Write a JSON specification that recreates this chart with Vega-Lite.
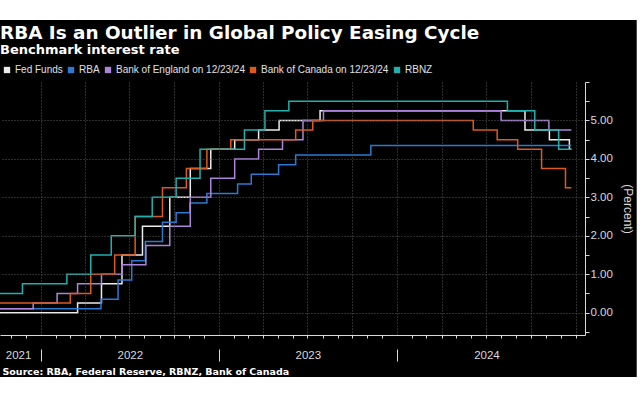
{
  "$schema": "https://vega.github.io/schema/vega-lite/v6.json",
  "width": 585,
  "height": 253,
  "autosize": {"type": "none"},
  "padding": {"left": 0, "top": 82, "right": 55, "bottom": 65},
  "background": "white",
  "config": {
    "view": {"stroke": null},
    "axis": {
      "tickColor": "#d9d9d9",
      "domainColor": "#d9d9d9",
      "gridColor": "#5a5a5a",
      "gridDash": [1, 2],
      "labelColor": "#d9d9d9",
      "labelFont": "Liberation Sans",
      "labelFontSize": 11.5,
      "labelFlush": false,
      "labelOverlap": false,
      "labelBound": false
    }
  },
  "title": {
    "text": "RBA Is an Outlier in Global Policy Easing Cycle",
    "subtitle": "Benchmark interest rate",
    "anchor": "start",
    "frame": "group",
    "orient": "top",
    "offset": -37,
    "font": "DejaVu Sans",
    "fontSize": 18.4,
    "fontWeight": "bold",
    "color": "white",
    "subtitleFont": "DejaVu Sans",
    "subtitleFontSize": 13,
    "subtitleFontWeight": "bold",
    "subtitleColor": "white",
    "subtitlePadding": 2,
    "zindex": 1
  },
  "layer": [
    {
      "data": {"values": [{}]},
      "mark": {"type": "rect", "fill": "black"},
      "encoding": {
        "x": {
          "datum": {"year": 2021, "month": 7, "date": 1},
          "type": "temporal",
          "scale": {"domain": [{"year": 2021, "month": 10, "date": 9}, {"year": 2025, "month": 1, "date": 20}]},
          "axis": {
            "orient": "bottom",
            "zindex": 1,
            "values": [
              {"year": 2021, "month": 11, "date": 1},
              {"year": 2021, "month": 11, "date": 15},
              {"year": 2021, "month": 12, "date": 1},
              {"year": 2022, "month": 1, "date": 1},
              {"year": 2022, "month": 2, "date": 1},
              {"year": 2022, "month": 3, "date": 1},
              {"year": 2022, "month": 4, "date": 1},
              {"year": 2022, "month": 5, "date": 1},
              {"year": 2022, "month": 6, "date": 1},
              {"year": 2022, "month": 7, "date": 1},
              {"year": 2022, "month": 7, "date": 2},
              {"year": 2022, "month": 8, "date": 1},
              {"year": 2022, "month": 9, "date": 1},
              {"year": 2022, "month": 10, "date": 1},
              {"year": 2022, "month": 11, "date": 1},
              {"year": 2022, "month": 12, "date": 1},
              {"year": 2023, "month": 1, "date": 1},
              {"year": 2023, "month": 2, "date": 1},
              {"year": 2023, "month": 3, "date": 1},
              {"year": 2023, "month": 4, "date": 1},
              {"year": 2023, "month": 5, "date": 1},
              {"year": 2023, "month": 6, "date": 1},
              {"year": 2023, "month": 7, "date": 1},
              {"year": 2023, "month": 7, "date": 2},
              {"year": 2023, "month": 8, "date": 1},
              {"year": 2023, "month": 9, "date": 1},
              {"year": 2023, "month": 10, "date": 1},
              {"year": 2023, "month": 11, "date": 1},
              {"year": 2023, "month": 12, "date": 1},
              {"year": 2024, "month": 1, "date": 1},
              {"year": 2024, "month": 2, "date": 1},
              {"year": 2024, "month": 3, "date": 1},
              {"year": 2024, "month": 4, "date": 1},
              {"year": 2024, "month": 5, "date": 1},
              {"year": 2024, "month": 6, "date": 1},
              {"year": 2024, "month": 7, "date": 1},
              {"year": 2024, "month": 7, "date": 2},
              {"year": 2024, "month": 8, "date": 1},
              {"year": 2024, "month": 9, "date": 1},
              {"year": 2024, "month": 10, "date": 1},
              {"year": 2024, "month": 11, "date": 1},
              {"year": 2024, "month": 12, "date": 1},
              {"year": 2025, "month": 1, "date": 1}
            ],
            "tickSize": {"condition": {"test": "month(datum.value) == 0 && date(datum.value) == 1 && year(datum.value) < 2025", "value": 26}, "value": 3},
            "tickDash": {"condition": {"test": "month(datum.value) == 0 && date(datum.value) == 1 && year(datum.value) < 2025", "value": [0, 14, 12, 0]}, "value": [100, 0]},
            "tickOpacity": {"condition": {"test": "date(datum.value) == 1", "value": 1}, "value": 0},
            "grid": true,
            "gridOpacity": {"condition": {"test": "date(datum.value) == 1 && month(datum.value) % 3 == 0", "value": 1}, "value": 0},
            "labelExpr": "date(datum.value) == 1 ? '' : timeFormat(datum.value, '%Y')",
            "labelBaseline": "middle",
            "labelPadding": 17,
            "title": "Source: RBA, Federal Reserve, RBNZ, Bank of Canada",
            "titleX": 2,
            "titleY": 39,
            "titleAlign": "left",
            "titleBaseline": "alphabetic",
            "titleFont": "DejaVu Sans",
            "titleFontSize": 9.5,
            "titleFontWeight": "bold",
            "titleColor": "white"
          }
        },
        "x2": {"datum": {"year": 2025, "month": 5, "date": 6}},
        "y": {
          "datum": 7.61,
          "type": "quantitative",
          "scale": {"domain": [-0.58, 6], "zero": false, "nice": false},
          "axis": {
            "orient": "right",
            "zindex": 1,
            "values": [-0.5, 0, 0.5, 1, 1.5, 2, 2.5, 3, 3.5, 4, 4.5, 5, 5.5, 6],
            "labelExpr": "datum.value >= 0 && datum.value <= 5 && datum.value % 1 == 0 ? format(datum.value, '.2f') : ''",
            "grid": true,
            "gridOpacity": {"condition": {"test": "datum.value >= 0 && datum.value <= 5 && datum.value % 1 == 0", "value": 1}, "value": 0},
            "tickSize": 4,
            "labelPadding": 1,
            "title": "(Percent)",
            "titleColor": "#d9d9d9",
            "titleFont": "Liberation Sans",
            "titleFontSize": 12,
            "titleFontWeight": "normal",
            "titlePadding": 8
          }
        },
        "y2": {"datum": -1.67}
      }
    },
    {
      "data": {
        "values": [
          {"bank": "Fed Funds", "date": "2021-10-09", "rate": 0},
          {"bank": "Fed Funds", "date": "2022-03-17", "rate": 0.25},
          {"bank": "Fed Funds", "date": "2022-05-05", "rate": 0.75},
          {"bank": "Fed Funds", "date": "2022-06-16", "rate": 1.5},
          {"bank": "Fed Funds", "date": "2022-07-28", "rate": 2.25},
          {"bank": "Fed Funds", "date": "2022-09-22", "rate": 3.0},
          {"bank": "Fed Funds", "date": "2022-11-03", "rate": 3.75},
          {"bank": "Fed Funds", "date": "2022-12-15", "rate": 4.25},
          {"bank": "Fed Funds", "date": "2023-02-02", "rate": 4.5},
          {"bank": "Fed Funds", "date": "2023-03-23", "rate": 4.75},
          {"bank": "Fed Funds", "date": "2023-05-04", "rate": 5.0},
          {"bank": "Fed Funds", "date": "2023-07-27", "rate": 5.25},
          {"bank": "Fed Funds", "date": "2024-09-19", "rate": 4.75},
          {"bank": "Fed Funds", "date": "2024-11-08", "rate": 4.5},
          {"bank": "Fed Funds", "date": "2024-12-19", "rate": 4.25},
          {"bank": "Fed Funds", "date": "2024-12-23", "rate": 4.25},

          {"bank": "RBA", "date": "2021-10-09", "rate": 0.1},
          {"bank": "RBA", "date": "2022-05-04", "rate": 0.35},
          {"bank": "RBA", "date": "2022-06-08", "rate": 0.85},
          {"bank": "RBA", "date": "2022-07-06", "rate": 1.35},
          {"bank": "RBA", "date": "2022-08-03", "rate": 1.85},
          {"bank": "RBA", "date": "2022-09-07", "rate": 2.35},
          {"bank": "RBA", "date": "2022-10-05", "rate": 2.6},
          {"bank": "RBA", "date": "2022-11-02", "rate": 2.85},
          {"bank": "RBA", "date": "2022-12-07", "rate": 3.1},
          {"bank": "RBA", "date": "2023-02-08", "rate": 3.35},
          {"bank": "RBA", "date": "2023-03-08", "rate": 3.6},
          {"bank": "RBA", "date": "2023-05-03", "rate": 3.85},
          {"bank": "RBA", "date": "2023-06-07", "rate": 4.1},
          {"bank": "RBA", "date": "2023-11-08", "rate": 4.35},
          {"bank": "RBA", "date": "2024-12-23", "rate": 4.35},

          {"bank": "Bank of England on 12/23/24", "date": "2021-10-09", "rate": 0.1},
          {"bank": "Bank of England on 12/23/24", "date": "2021-12-16", "rate": 0.25},
          {"bank": "Bank of England on 12/23/24", "date": "2022-02-03", "rate": 0.5},
          {"bank": "Bank of England on 12/23/24", "date": "2022-03-17", "rate": 0.75},
          {"bank": "Bank of England on 12/23/24", "date": "2022-05-05", "rate": 1.0},
          {"bank": "Bank of England on 12/23/24", "date": "2022-06-16", "rate": 1.25},
          {"bank": "Bank of England on 12/23/24", "date": "2022-08-04", "rate": 1.75},
          {"bank": "Bank of England on 12/23/24", "date": "2022-09-22", "rate": 2.25},
          {"bank": "Bank of England on 12/23/24", "date": "2022-11-03", "rate": 3.0},
          {"bank": "Bank of England on 12/23/24", "date": "2022-12-15", "rate": 3.5},
          {"bank": "Bank of England on 12/23/24", "date": "2023-02-02", "rate": 4.0},
          {"bank": "Bank of England on 12/23/24", "date": "2023-03-23", "rate": 4.25},
          {"bank": "Bank of England on 12/23/24", "date": "2023-05-11", "rate": 4.5},
          {"bank": "Bank of England on 12/23/24", "date": "2023-06-22", "rate": 5.0},
          {"bank": "Bank of England on 12/23/24", "date": "2023-08-03", "rate": 5.25},
          {"bank": "Bank of England on 12/23/24", "date": "2024-08-01", "rate": 5.0},
          {"bank": "Bank of England on 12/23/24", "date": "2024-11-07", "rate": 4.75},
          {"bank": "Bank of England on 12/23/24", "date": "2024-12-23", "rate": 4.75},

          {"bank": "Bank of Canada on 12/23/24", "date": "2021-10-09", "rate": 0.25},
          {"bank": "Bank of Canada on 12/23/24", "date": "2022-03-02", "rate": 0.5},
          {"bank": "Bank of Canada on 12/23/24", "date": "2022-04-13", "rate": 1.0},
          {"bank": "Bank of Canada on 12/23/24", "date": "2022-06-01", "rate": 1.5},
          {"bank": "Bank of Canada on 12/23/24", "date": "2022-07-13", "rate": 2.5},
          {"bank": "Bank of Canada on 12/23/24", "date": "2022-09-07", "rate": 3.25},
          {"bank": "Bank of Canada on 12/23/24", "date": "2022-10-26", "rate": 3.75},
          {"bank": "Bank of Canada on 12/23/24", "date": "2022-12-07", "rate": 4.25},
          {"bank": "Bank of Canada on 12/23/24", "date": "2023-01-25", "rate": 4.5},
          {"bank": "Bank of Canada on 12/23/24", "date": "2023-06-07", "rate": 4.75},
          {"bank": "Bank of Canada on 12/23/24", "date": "2023-07-12", "rate": 5.0},
          {"bank": "Bank of Canada on 12/23/24", "date": "2024-06-05", "rate": 4.75},
          {"bank": "Bank of Canada on 12/23/24", "date": "2024-07-24", "rate": 4.5},
          {"bank": "Bank of Canada on 12/23/24", "date": "2024-09-04", "rate": 4.25},
          {"bank": "Bank of Canada on 12/23/24", "date": "2024-10-23", "rate": 3.75},
          {"bank": "Bank of Canada on 12/23/24", "date": "2024-12-11", "rate": 3.25},
          {"bank": "Bank of Canada on 12/23/24", "date": "2024-12-23", "rate": 3.25},

          {"bank": "RBNZ", "date": "2021-10-09", "rate": 0.5},
          {"bank": "RBNZ", "date": "2021-11-24", "rate": 0.75},
          {"bank": "RBNZ", "date": "2022-02-23", "rate": 1.0},
          {"bank": "RBNZ", "date": "2022-04-13", "rate": 1.5},
          {"bank": "RBNZ", "date": "2022-05-25", "rate": 2.0},
          {"bank": "RBNZ", "date": "2022-07-13", "rate": 2.5},
          {"bank": "RBNZ", "date": "2022-08-17", "rate": 3.0},
          {"bank": "RBNZ", "date": "2022-10-05", "rate": 3.5},
          {"bank": "RBNZ", "date": "2022-11-23", "rate": 4.25},
          {"bank": "RBNZ", "date": "2023-02-22", "rate": 4.75},
          {"bank": "RBNZ", "date": "2023-04-05", "rate": 5.25},
          {"bank": "RBNZ", "date": "2023-05-24", "rate": 5.5},
          {"bank": "RBNZ", "date": "2024-08-14", "rate": 5.25},
          {"bank": "RBNZ", "date": "2024-10-09", "rate": 4.75},
          {"bank": "RBNZ", "date": "2024-11-27", "rate": 4.25},
          {"bank": "RBNZ", "date": "2024-12-23", "rate": 4.25}
        ]
      },
      "mark": {"type": "line", "interpolate": "step-after", "strokeWidth": 1.5},
      "encoding": {
        "x": {
          "field": "date",
          "type": "temporal",
          "scale": {"domain": [{"year": 2021, "month": 10, "date": 9}, {"year": 2025, "month": 1, "date": 20}]},
          "axis": {
            "orient": "bottom",
            "zindex": 1,
            "values": [
              {"year": 2021, "month": 11, "date": 1},
              {"year": 2021, "month": 11, "date": 15},
              {"year": 2021, "month": 12, "date": 1},
              {"year": 2022, "month": 1, "date": 1},
              {"year": 2022, "month": 2, "date": 1},
              {"year": 2022, "month": 3, "date": 1},
              {"year": 2022, "month": 4, "date": 1},
              {"year": 2022, "month": 5, "date": 1},
              {"year": 2022, "month": 6, "date": 1},
              {"year": 2022, "month": 7, "date": 1},
              {"year": 2022, "month": 7, "date": 2},
              {"year": 2022, "month": 8, "date": 1},
              {"year": 2022, "month": 9, "date": 1},
              {"year": 2022, "month": 10, "date": 1},
              {"year": 2022, "month": 11, "date": 1},
              {"year": 2022, "month": 12, "date": 1},
              {"year": 2023, "month": 1, "date": 1},
              {"year": 2023, "month": 2, "date": 1},
              {"year": 2023, "month": 3, "date": 1},
              {"year": 2023, "month": 4, "date": 1},
              {"year": 2023, "month": 5, "date": 1},
              {"year": 2023, "month": 6, "date": 1},
              {"year": 2023, "month": 7, "date": 1},
              {"year": 2023, "month": 7, "date": 2},
              {"year": 2023, "month": 8, "date": 1},
              {"year": 2023, "month": 9, "date": 1},
              {"year": 2023, "month": 10, "date": 1},
              {"year": 2023, "month": 11, "date": 1},
              {"year": 2023, "month": 12, "date": 1},
              {"year": 2024, "month": 1, "date": 1},
              {"year": 2024, "month": 2, "date": 1},
              {"year": 2024, "month": 3, "date": 1},
              {"year": 2024, "month": 4, "date": 1},
              {"year": 2024, "month": 5, "date": 1},
              {"year": 2024, "month": 6, "date": 1},
              {"year": 2024, "month": 7, "date": 1},
              {"year": 2024, "month": 7, "date": 2},
              {"year": 2024, "month": 8, "date": 1},
              {"year": 2024, "month": 9, "date": 1},
              {"year": 2024, "month": 10, "date": 1},
              {"year": 2024, "month": 11, "date": 1},
              {"year": 2024, "month": 12, "date": 1},
              {"year": 2025, "month": 1, "date": 1}
            ],
            "tickSize": {"condition": {"test": "month(datum.value) == 0 && date(datum.value) == 1 && year(datum.value) < 2025", "value": 26}, "value": 3},
            "tickDash": {"condition": {"test": "month(datum.value) == 0 && date(datum.value) == 1 && year(datum.value) < 2025", "value": [0, 14, 12, 0]}, "value": [100, 0]},
            "tickOpacity": {"condition": {"test": "date(datum.value) == 1", "value": 1}, "value": 0},
            "grid": true,
            "gridOpacity": {"condition": {"test": "date(datum.value) == 1 && month(datum.value) % 3 == 0", "value": 1}, "value": 0},
            "labelExpr": "date(datum.value) == 1 ? '' : timeFormat(datum.value, '%Y')",
            "labelBaseline": "middle",
            "labelPadding": 17,
            "title": "Source: RBA, Federal Reserve, RBNZ, Bank of Canada",
            "titleX": 2,
            "titleY": 39,
            "titleAlign": "left",
            "titleBaseline": "alphabetic",
            "titleFont": "DejaVu Sans",
            "titleFontSize": 9.5,
            "titleFontWeight": "bold",
            "titleColor": "white"
          }
        },
        "y": {
          "field": "rate",
          "type": "quantitative",
          "scale": {"domain": [-0.58, 6], "zero": false, "nice": false},
          "axis": {
            "orient": "right",
            "zindex": 1,
            "values": [-0.5, 0, 0.5, 1, 1.5, 2, 2.5, 3, 3.5, 4, 4.5, 5, 5.5, 6],
            "labelExpr": "datum.value >= 0 && datum.value <= 5 && datum.value % 1 == 0 ? format(datum.value, '.2f') : ''",
            "grid": true,
            "gridOpacity": {"condition": {"test": "datum.value >= 0 && datum.value <= 5 && datum.value % 1 == 0", "value": 1}, "value": 0},
            "tickSize": 4,
            "labelPadding": 1,
            "title": "(Percent)",
            "titleColor": "#d9d9d9",
            "titleFont": "Liberation Sans",
            "titleFontSize": 12,
            "titleFontWeight": "normal",
            "titlePadding": 8
          }
        },
        "color": {
          "field": "bank",
          "type": "nominal",
          "sort": null,
          "scale": {
            "domain": ["Fed Funds", "RBA", "Bank of England on 12/23/24", "Bank of Canada on 12/23/24", "RBNZ"],
            "range": ["#ececec", "#2b79d0", "#ad84dc", "#dd5a1c", "#1fb0b0"]
          },
          "legend": {
            "orient": "none",
            "legendX": 2,
            "legendY": -17,
            "direction": "horizontal",
            "title": null,
            "symbolType": "square",
            "symbolSize": 40,
            "symbolStrokeWidth": 0,
            "labelColor": "#e0e0e0",
            "labelFont": "Liberation Sans",
            "labelFontSize": 10,
            "labelOffset": 3,
            "columnPadding": 3,
            "padding": 0,
            "zindex": 1,
            "encode": {"symbols": {"update": {"fill": {"scale": "color", "field": "value"}, "stroke": {"value": "transparent"}}}}
          }
        }
      }
    }
  ]
}
